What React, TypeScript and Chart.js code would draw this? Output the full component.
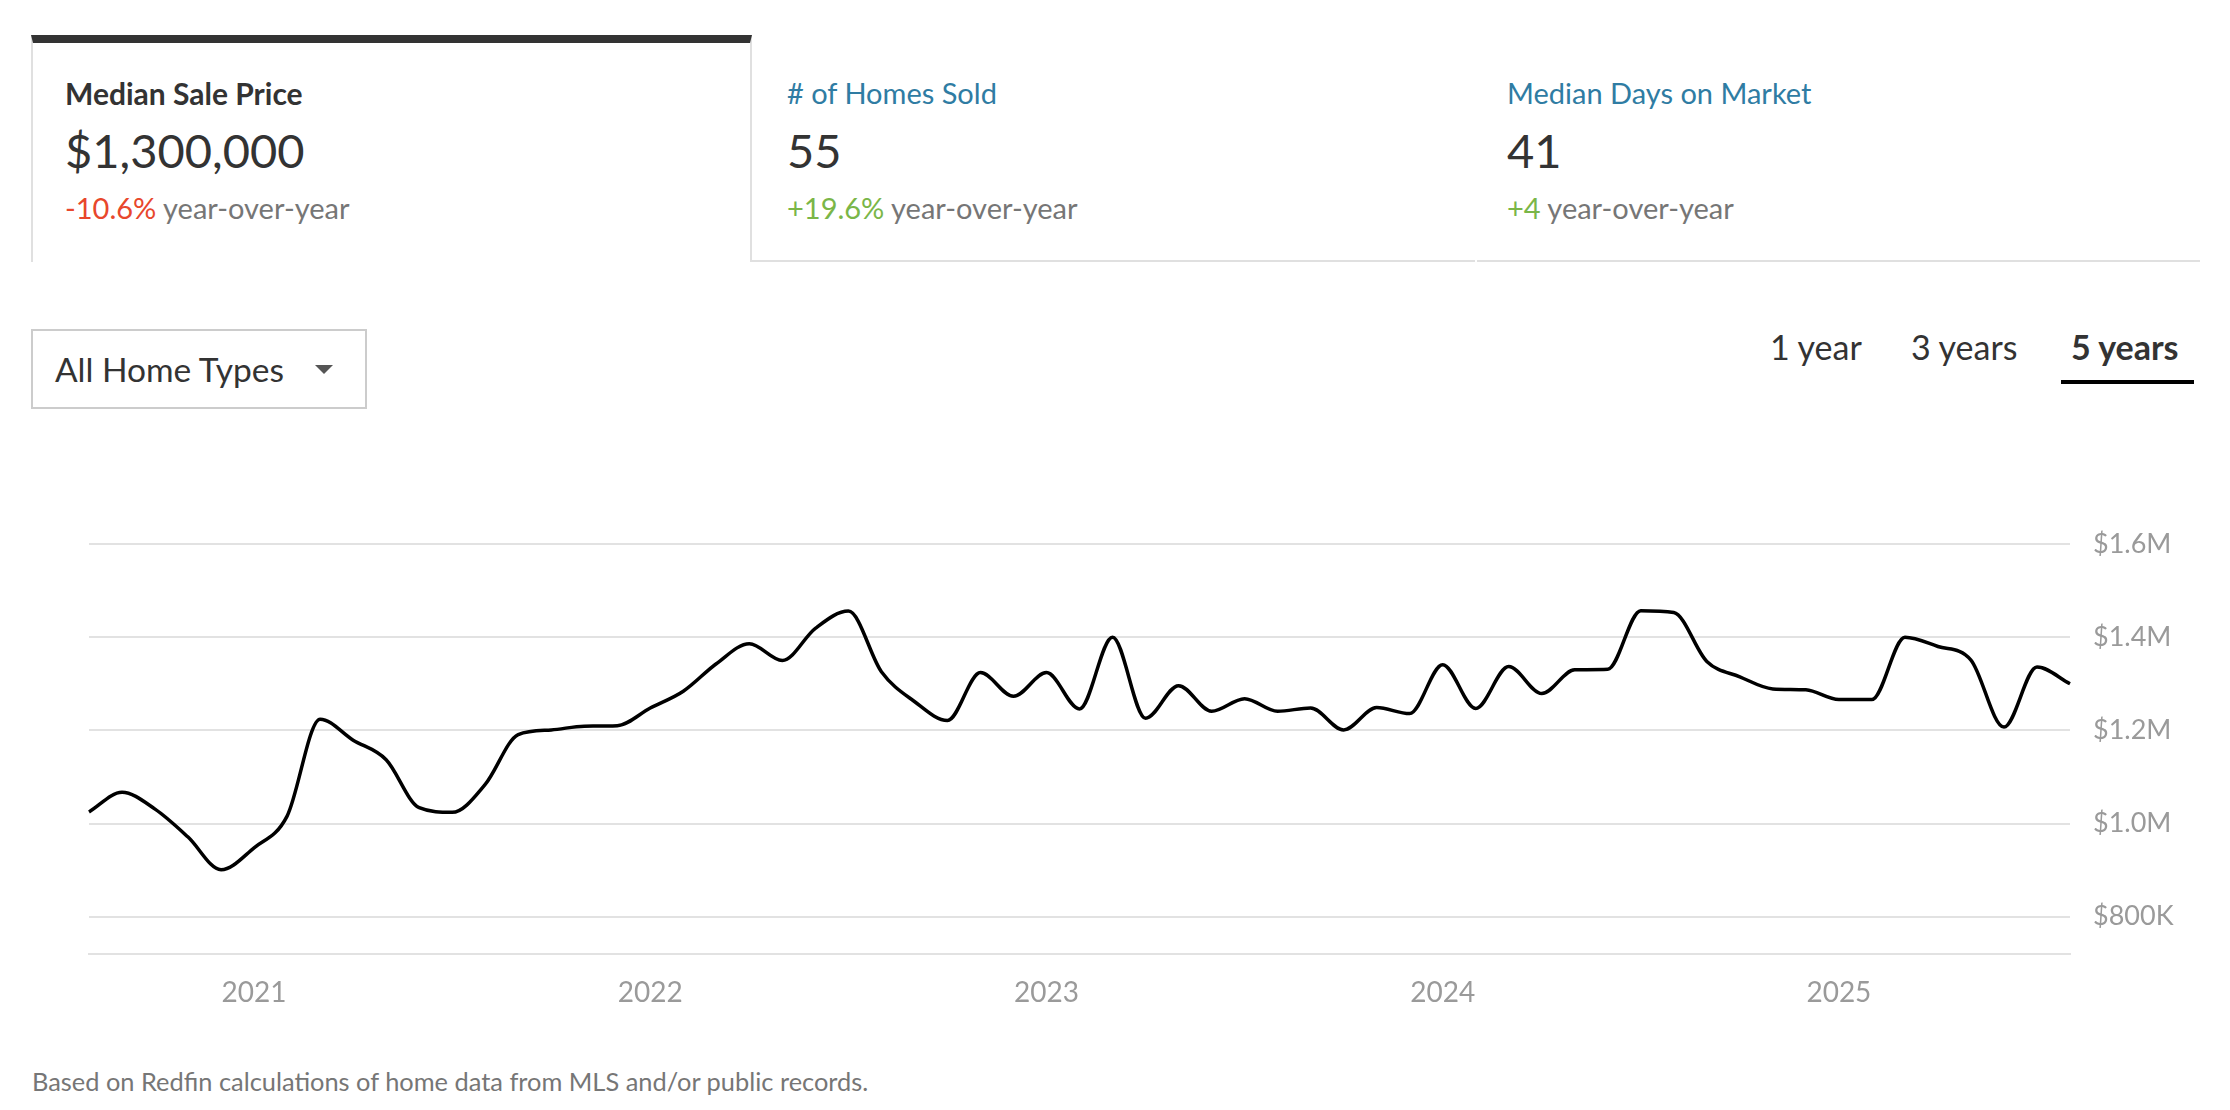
import React, { useEffect, useRef } from "react";
import { Chart, registerables } from "chart.js";

Chart.register(...registerables);

const months = [
  "Aug 2020", "Sep 2020", "Oct 2020", "Nov 2020", "Dec 2020",
  "Jan 2021", "Feb 2021", "Mar 2021", "Apr 2021", "May 2021", "Jun 2021", "Jul 2021", "Aug 2021", "Sep 2021", "Oct 2021", "Nov 2021", "Dec 2021",
  "Jan 2022", "Feb 2022", "Mar 2022", "Apr 2022", "May 2022", "Jun 2022", "Jul 2022", "Aug 2022", "Sep 2022", "Oct 2022", "Nov 2022", "Dec 2022",
  "Jan 2023", "Feb 2023", "Mar 2023", "Apr 2023", "May 2023", "Jun 2023", "Jul 2023", "Aug 2023", "Sep 2023", "Oct 2023", "Nov 2023", "Dec 2023",
  "Jan 2024", "Feb 2024", "Mar 2024", "Apr 2024", "May 2024", "Jun 2024", "Jul 2024", "Aug 2024", "Sep 2024", "Oct 2024", "Nov 2024", "Dec 2024",
  "Jan 2025", "Feb 2025", "Mar 2025", "Apr 2025", "May 2025", "Jun 2025", "Jul 2025", "Aug 2025",
];

const medianSalePrice = [
  1025000, 1067000, 1031000, 971000, 901000,
  948000, 1016000, 1224000, 1179000, 1137000, 1034000, 1024000, 1084000, 1191000, 1201000, 1209000, 1210000,
  1248000, 1284000, 1343000, 1386000, 1350000, 1419000, 1456000, 1326000, 1262000, 1221000, 1324000, 1273000,
  1324000, 1246000, 1400000, 1226000, 1296000, 1241000, 1268000, 1241000, 1248000, 1201000, 1249000, 1236000,
  1341000, 1247000, 1337000, 1279000, 1330000, 1331000, 1457000, 1453000, 1348000, 1315000, 1289000, 1287000,
  1266000, 1266000, 1400000, 1380000, 1351000, 1207000, 1336000, 1300000,
];

const yearTicks = ["2021", "2022", "2023", "2024", "2025"];
const priceTicks = [800000, 1000000, 1200000, 1400000, 1600000];
const yMin = 720000;
const yMax = 1600000;

const tabs = [
  { title: "Median Sale Price", value: "$1,300,000", change: "-10.6%", changeColor: "#e8472c", active: true },
  { title: "# of Homes Sold", value: "55", change: "+19.6%", changeColor: "#7ab648", active: false },
  { title: "Median Days on Market", value: "41", change: "+4", changeColor: "#7ab648", active: false },
];

const ranges = ["1 year", "3 years", "5 years"];

const FONT = "Lato, 'Open Sans', sans-serif";

function formatPrice(v: number): string {
  if (v >= 1000000) return "$" + (v / 1000000).toFixed(1) + "M";
  return "$" + Math.round(v / 1000) + "K";
}

function PriceChart() {
  const ref = useRef<HTMLCanvasElement | null>(null);
  useEffect(() => {
    if (!ref.current) return;
    const chart = new Chart(ref.current, {
      type: "line",
      data: {
        labels: months,
        datasets: [
          {
            data: medianSalePrice,
            borderColor: "#000000",
            borderWidth: 3.5,
            pointRadius: 0,
            pointHoverRadius: 0,
            fill: false,
            cubicInterpolationMode: "monotone",
          },
        ],
      },
      options: {
        responsive: false,
        animation: false,
        devicePixelRatio: 1,
        layout: { padding: { left: 89, top: 44, right: 0, bottom: 0 } },
        plugins: { legend: { display: false }, tooltip: { enabled: false } },
        scales: {
          x: {
            type: "category",
            offset: false,
            grid: { display: false, drawTicks: false },
            border: { display: true, color: "#e2e2e2", width: 2 },
            ticks: {
              autoSkip: false,
              maxRotation: 0,
              minRotation: 0,
              padding: 22,
              color: "#9a9a9a",
              font: { family: FONT, size: 28 },
              callback: (_v: any, i: number) => {
                const parts = months[i].split(" ");
                return parts[0] === "Jan" && yearTicks.includes(parts[1]) ? parts[1] : null;
              },
            },
            afterFit: (scale: any) => {
              scale.height = 86;
            },
          },
          y: {
            position: "right",
            min: yMin,
            max: yMax,
            grid: { color: "#e2e2e2", lineWidth: 2, drawTicks: false },
            border: { display: false },
            ticks: {
              stepSize: 200000,
              padding: 23,
              color: "#9a9a9a",
              font: { family: FONT, size: 27 },
              callback: (v: any) => formatPrice(Number(v)),
            },
            afterBuildTicks: (scale: any) => {
              scale.ticks = priceTicks.map((v) => ({ value: v }));
            },
            afterFit: (scale: any) => {
              scale.width = 160;
            },
          },
        },
      },
    });
    return () => chart.destroy();
  }, []);
  return (
    <canvas
      ref={ref}
      width={2230}
      height={540}
      style={{ position: "absolute", left: 0, top: 500, width: 2230, height: 540 }}
    />
  );
}

export default function App() {
  const tabLefts = [31, 752, 1477];
  const tabWidths = [721, 723, 723];
  const textLefts = [65, 787, 1507];
  return (
    <div
      style={{
        position: "absolute",
        left: 0,
        top: 0,
        width: 2230,
        height: 1110,
        background: "#ffffff",
        fontFamily: FONT,
        overflow: "hidden",
      }}
    >
      {tabs.map((t, i) => (
        <div
          key={t.title}
          style={{
            position: "absolute",
            left: tabLefts[i],
            top: t.active ? 35 : 43,
            width: tabWidths[i],
            height: t.active ? 227 : 219,
            boxSizing: "border-box",
            borderTop: t.active ? "8px solid #333333" : "none",
            borderLeft: t.active ? "2px solid #e0e0e0" : "none",
            borderRight: t.active ? "2px solid #e0e0e0" : "none",
            borderBottom: t.active ? "none" : "2px solid #e0e0e0",
          }}
        />
      ))}
      {tabs.map((t, i) => (
        <React.Fragment key={"txt" + i}>
          <div
            style={{
              position: "absolute",
              left: textLefts[i],
              top: t.active ? 75 : 76,
              fontSize: t.active ? 30 : 29,
              lineHeight: 1.2,
              fontWeight: t.active ? 700 : 400,
              color: t.active ? "#333333" : "#2f7ca3",
              whiteSpace: "nowrap",
            }}
          >
            {t.title}
          </div>
          <div
            style={{
              position: "absolute",
              left: textLefts[i],
              top: 122,
              fontSize: 47,
              lineHeight: 1.2,
              color: "#333333",
              whiteSpace: "nowrap",
            }}
          >
            {t.value}
          </div>
          <div
            style={{
              position: "absolute",
              left: textLefts[i],
              top: 191,
              fontSize: 29,
              lineHeight: 1.2,
              color: "#767676",
              whiteSpace: "nowrap",
            }}
          >
            <span style={{ color: t.changeColor }}>{t.change}</span> year-over-year
          </div>
        </React.Fragment>
      ))}

      <div
        style={{
          position: "absolute",
          left: 31,
          top: 329,
          width: 336,
          height: 80,
          boxSizing: "border-box",
          border: "2px solid #cccccc",
        }}
      >
        <div
          style={{
            position: "absolute",
            left: 22,
            top: 18,
            fontSize: 33.5,
            lineHeight: 1.2,
            color: "#333333",
            whiteSpace: "nowrap",
          }}
        >
          All Home Types
        </div>
        <div
          style={{
            position: "absolute",
            left: 282,
            top: 34,
            width: 0,
            height: 0,
            borderLeft: "9px solid transparent",
            borderRight: "9px solid transparent",
            borderTop: "9px solid #555555",
          }}
        />
      </div>

      {ranges.map((r, i) => {
        const lefts = [1770, 1911, 2071];
        const active = i === ranges.length - 1;
        return (
          <div
            key={r}
            style={{
              position: "absolute",
              left: lefts[i],
              top: 327,
              fontSize: 34,
              lineHeight: 1.2,
              fontWeight: active ? 700 : 400,
              color: "#333333",
              whiteSpace: "nowrap",
            }}
          >
            {r}
          </div>
        );
      })}
      <div style={{ position: "absolute", left: 2061, top: 380, width: 133, height: 4, background: "#000000" }} />

      <PriceChart />

      <div
        style={{
          position: "absolute",
          left: 32,
          top: 1066,
          fontSize: 25.4,
          lineHeight: 1.2,
          color: "#767676",
          whiteSpace: "nowrap",
        }}
      >
        Based on Redfin calculations of home data from MLS and/or public records.
      </div>
    </div>
  );
}
